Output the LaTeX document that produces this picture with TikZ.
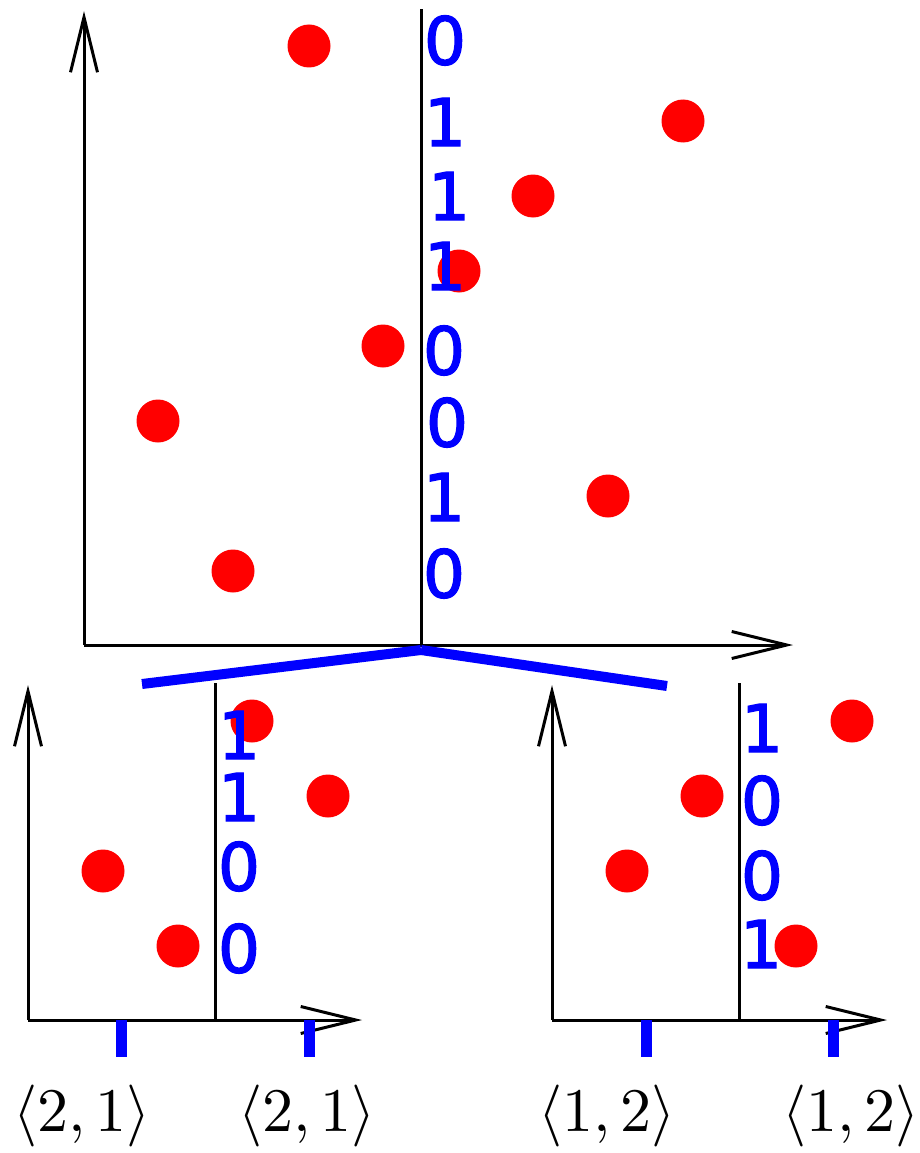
\documentclass[tikz,border=0pt]{standalone}
\usepackage{fontspec}
\newfontfamily\digitfont[FakeBold=2]{DejaVu Sans}
\usetikzlibrary{arrows.meta}
\definecolor{pblue}{RGB}{0,0,255}
\definecolor{pred}{RGB}{255,0,0}
\newcommand{\bigang}[1]{\scalebox{6.2}{$\langle #1\rangle$}}
\begin{document}
\begin{tikzpicture}[x=1pt,y=-1pt,
  axis/.style={line width=3pt,black,-{Straight Barb[length=55pt,width=27pt,line width=3pt]}},
  divider/.style={line width=3pt,black},
  dot/.style={circle,fill=pred,inner sep=0pt,minimum size=43pt},
  bit/.style={text=pblue,inner sep=0pt,text depth=0pt,font=\digitfont\fontsize{66}{66}\selectfont},
  split/.style={line width=10pt,pblue},
  tick/.style={line width=11pt,pblue},
  lbl/.style={inner sep=0pt}]
\useasboundingbox (0,0) rectangle (919,1153);
% ---------- top panel ----------
\coordinate (o) at (84,645);
\coordinate (ytop) at (84,11);
\coordinate (xtop) at (793,645);
\coordinate (vt) at (421,9);
\coordinate (vb) at (421,645);
\draw[axis] (o) -- (ytop);
\draw[axis] (o) -- (xtop);
\draw[divider] (vb) -- (vt);
\node[dot] (t1) at (309,46) {};
\node[dot] (t2) at (683,121) {};
\node[dot] (t3) at (533,196) {};
\node[dot] (t4) at (459,271) {};
\node[dot] (t5) at (383,346) {};
\node[dot] (t6) at (158,421) {};
\node[dot] (t7) at (608,496) {};
\node[dot] (t8) at (233,571) {};
\node[bit] (b1) at (445,40) {0};
\node[bit] (b2) at (445,122) {1};
\node[bit] (b3) at (449,196) {1};
\node[bit] (b4) at (445,266) {1};
\node[bit] (b5) at (444,350) {0};
\node[bit] (b6) at (447,422) {0};
\node[bit] (b7) at (444,497) {1};
\node[bit] (b8) at (444,573) {0};
% ---------- split lines ----------
\coordinate (sj) at (421,650);
\coordinate (sl) at (142,684);
\coordinate (sr) at (667,686);
\draw[split] (sj) -- (sl);
\draw[split] (sj) -- (sr);
% ---------- bottom-left panel ----------
\coordinate (lo) at (28,1020);
\coordinate (ly) at (28,685);
\coordinate (lx) at (362,1020);
\coordinate (lvt) at (215,683);
\coordinate (lvb) at (215,1020);
\draw[axis] (lo) -- (ly);
\draw[axis] (lo) -- (lx);
\draw[divider] (lvb) -- (lvt);
\node[dot] (l1) at (252,721) {};
\node[dot] (l2) at (328,796) {};
\node[dot] (l3) at (103,871) {};
\node[dot] (l4) at (178,946) {};
\node[bit] (lb1) at (239,735) {1};
\node[bit] (lb2) at (239,797) {1};
\node[bit] (lb3) at (239,866) {0};
\node[bit] (lb4) at (239,948) {0};
\coordinate (lt1a) at (121,1020);
\coordinate (lt1b) at (121,1057);
\coordinate (lt2a) at (309,1020);
\coordinate (lt2b) at (309,1057);
\draw[tick] (lt1a) -- (lt1b);
\draw[tick] (lt2a) -- (lt2b);
\node[lbl] (ll1) at (82,1116) {\bigang{2,1}};
\node[lbl] (ll2) at (307,1116) {\bigang{2,1}};
% ---------- bottom-right panel ----------
\coordinate (ro) at (552,1020);
\coordinate (ry) at (552,685);
\coordinate (rx) at (887,1020);
\coordinate (rvt) at (739,683);
\coordinate (rvb) at (739,1020);
\draw[axis] (ro) -- (ry);
\draw[axis] (ro) -- (rx);
\draw[divider] (rvb) -- (rvt);
\node[dot] (r1) at (852,721) {};
\node[dot] (r2) at (702,796) {};
\node[dot] (r3) at (627,871) {};
\node[dot] (r4) at (796,946) {};
\node[bit] (rb1) at (762,728) {1};
\node[bit] (rb2) at (762,800) {0};
\node[bit] (rb3) at (762,875) {0};
\node[bit] (rb4) at (761,944) {1};
\coordinate (rt1a) at (646,1020);
\coordinate (rt1b) at (646,1057);
\coordinate (rt2a) at (833,1020);
\coordinate (rt2b) at (833,1057);
\draw[tick] (rt1a) -- (rt1b);
\draw[tick] (rt2a) -- (rt2b);
\node[lbl] (rl1) at (607,1116) {\bigang{1,2}};
\node[lbl] (rl2) at (851,1116) {\bigang{1,2}};
\end{tikzpicture}
\end{document}
